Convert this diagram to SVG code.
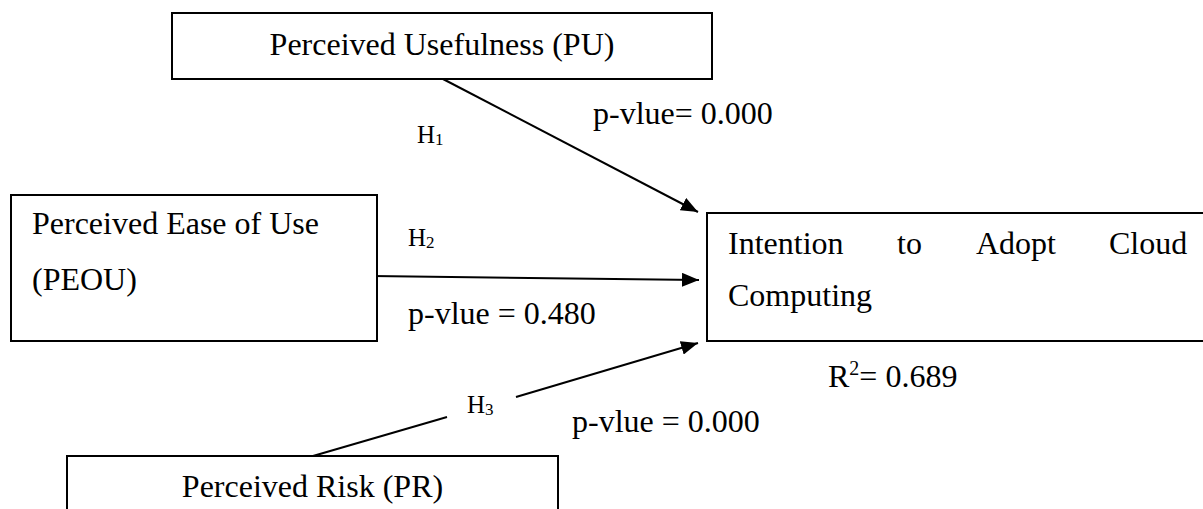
<svg xmlns="http://www.w3.org/2000/svg" width="1203" height="509" viewBox="0 0 1203 509">
<style>
.box{fill:#fff;stroke:#000;stroke-width:2}
text{font-family:"Liberation Serif","Times New Roman",serif;fill:#000}
.t{font-size:32px}
.h{font-size:25px}
.sub{font-size:17px}
.sup{font-size:20px}
.edge{stroke:#000;stroke-width:2;fill:none}
</style>
<defs>
<marker id="ah" markerUnits="userSpaceOnUse" markerWidth="18" markerHeight="14" refX="17" refY="7" orient="auto"><path d="M0,0 L17,7 L0,14 z" fill="#000"/></marker>
</defs>
<rect width="1203" height="509" fill="#fff"/>
<g id="connectors">
<line class="edge" x1="443" y1="79" x2="698" y2="212" marker-end="url(#ah)"/>
<line class="edge" x1="372" y1="276" x2="699" y2="280" marker-end="url(#ah)"/>
<line class="edge" x1="313" y1="456" x2="447" y2="417"/>
<line class="edge" x1="516" y1="397" x2="698" y2="343" marker-end="url(#ah)"/>
</g>
<g id="node-pu">
<rect class="box" x="172" y="13" width="540" height="66"/>
<text class="t" x="442" y="55" text-anchor="middle">Perceived Usefulness (PU)</text>
</g>
<g id="node-peou">
<rect class="box" x="11" y="195" width="366" height="146"/>
<text class="t" x="32" y="234">Perceived Ease of Use</text>
<text class="t" x="32" y="290">(PEOU)</text>
</g>
<g id="node-intention">
<rect class="box" x="707" y="213" width="520" height="128"/>
<text class="t" y="254"><tspan x="728">Intention</tspan><tspan x="897">to</tspan><tspan x="976">Adopt</tspan><tspan x="1109">Cloud</tspan></text>
<text class="t" x="728" y="306">Computing</text>
</g>
<g id="node-pr">
<rect class="box" x="67" y="456" width="491" height="80"/>
<text class="t" x="312.5" y="497" text-anchor="middle">Perceived Risk (PR)</text>
</g>
<g id="labels">
<text class="h" x="417" y="143">H<tspan class="sub" dy="2">1</tspan></text>
<text class="t" x="593" y="124">p-vlue= 0.000</text>
<text class="h" x="408" y="246">H<tspan class="sub" dy="2">2</tspan></text>
<text class="t" x="408" y="324">p-vlue = 0.480</text>
<text class="h" x="467" y="413">H<tspan class="sub" dy="2">3</tspan></text>
<text class="t" x="572" y="432">p-vlue = 0.000</text>
<text class="t" x="828" y="387">R<tspan class="sup" dy="-12">2</tspan><tspan dy="12">= 0.689</tspan></text>
</g>
</svg>
